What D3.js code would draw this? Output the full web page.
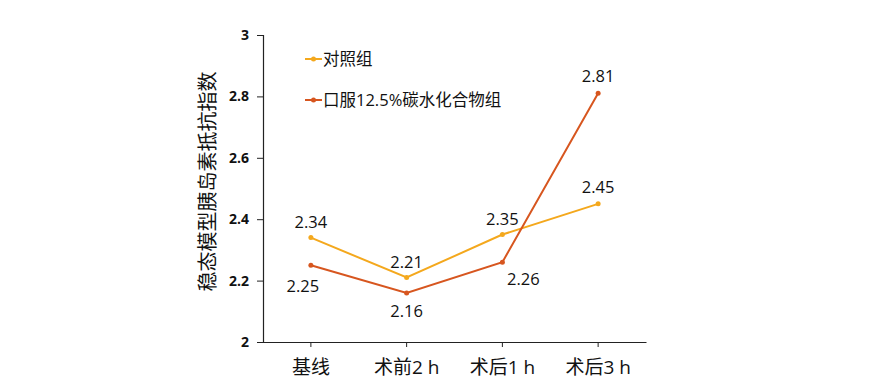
<!DOCTYPE html>
<html><head><meta charset="utf-8">
<script src="https://cdn.jsdelivr.net/npm/d3@7"></script>
<style>body{margin:0;background:#fff;} svg{display:block;}</style>
</head><body>
<svg id="c" width="886" height="391"></svg>
<script>
const categories = ["基线", "术前2 h", "术后1 h", "术后3 h"];
const seriesNames = ["对照组", "口服12.5%碳水化合物组"];
const control = [2.34, 2.21, 2.35, 2.45];
const carb = [2.25, 2.16, 2.26, 2.81];
const yTicks = [2, 2.2, 2.4, 2.6, 2.8, 3];
const yTitle = "稳态模型胰岛素抵抗指数";

const colors = ["#F4A81D", "#D7561F"];
const font = "'Open Sans','Noto Sans CJK SC','DejaVu Sans',sans-serif";
const svg = d3.select("#c");
const L = 263, R = 646, T = 35, B = 342;
const x = d3.scaleBand().domain(categories).range([L, R]);
const y = d3.scaleLinear().domain([2, 3]).range([B, T]);
const cx = d => x(d) + x.bandwidth() / 2;

// y axis
const ya = svg.append("g").attr("transform", `translate(${L},0)`)
  .call(d3.axisLeft(y).tickValues(yTicks).tickSize(6).tickPadding(8).tickFormat(d3.format("")));
ya.select(".domain").attr("stroke", "#222").attr("stroke-width", 1.2);
ya.selectAll(".tick line").attr("stroke", "#222");
ya.selectAll("text").attr("font-family", font).attr("font-size", 14).attr("font-weight", "bold").attr("fill", "#111");

// x axis
const xa = svg.append("g").attr("transform", `translate(0,${B})`)
  .call(d3.axisBottom(x).tickSize(5).tickSizeOuter(0).tickPadding(14));
xa.select(".domain").attr("stroke", "#222").attr("stroke-width", 1.2);
xa.selectAll(".tick line").attr("stroke", "#222");
xa.selectAll("text").attr("font-family", font).attr("font-size", 19).attr("fill", "#111");

// y title
svg.append("text").attr("transform", `translate(215,${(T + B) / 2 - 7}) rotate(-90)`)
  .attr("text-anchor", "middle").attr("font-family", font).attr("font-size", 20).attr("fill", "#111").text(yTitle);

const line = d3.line().x((d, i) => cx(categories[i])).y(d => y(d));
const data = [control, carb];
data.forEach((s, k) => {
  svg.append("path").datum(s).attr("d", line).attr("fill", "none")
    .attr("stroke", colors[k]).attr("stroke-width", 2);
  svg.selectAll(null).data(s).enter().append("circle")
    .attr("cx", (d, i) => cx(categories[i])).attr("cy", d => y(d)).attr("r", 2.5).attr("fill", colors[k]);
});

// data labels: offsets [dx, dy] relative to point
const offControl = [[0, -16], [0, -16], [0, -16], [0, -17]];
const offCarb = [[-8, 21], [0, 18], [21, 17], [0, -17]];
[[control, offControl], [carb, offCarb]].forEach(([s, off]) => {
  svg.selectAll(null).data(s).enter().append("text")
    .attr("x", (d, i) => cx(categories[i]) + off[i][0])
    .attr("y", (d, i) => y(d) + off[i][1] + 6)
    .attr("text-anchor", "middle").attr("font-family", font).attr("font-size", 16.5).attr("fill", "#111")
    .text(d => d3.format(".2f")(d));
});

// legend
const legY = [59, 100];
seriesNames.forEach((n, k) => {
  svg.append("line").attr("x1", 305).attr("x2", 322).attr("y1", legY[k]).attr("y2", legY[k])
    .attr("stroke", colors[k]).attr("stroke-width", 2);
  svg.append("circle").attr("cx", 313.5).attr("cy", legY[k]).attr("r", 2.5).attr("fill", colors[k]);
  svg.append("text").attr("x", 323).attr("y", legY[k] + 6).attr("font-family", font).attr("font-size", 16.5)
    .attr("fill", "#111").text(n);
});
</script>
</body></html>
